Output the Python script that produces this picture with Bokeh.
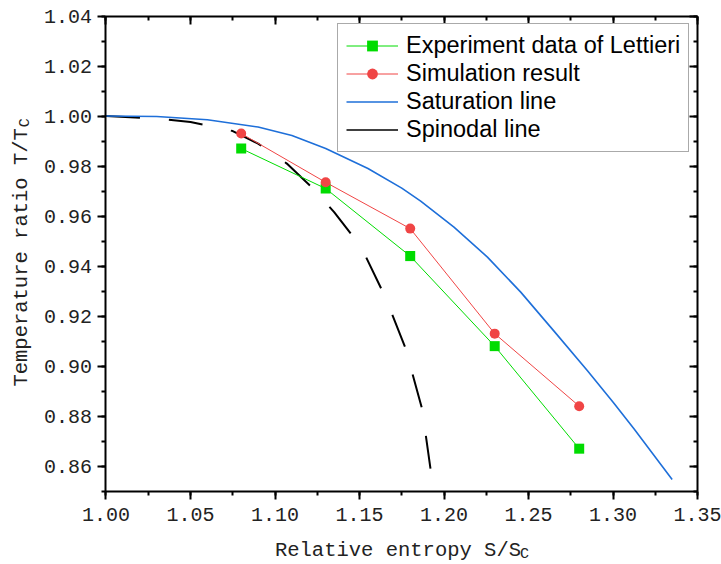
import math
from bokeh.plotting import figure
from bokeh.models import (LinearAxis, SingleIntervalTicker, NumeralTickFormatter,
                          Legend, LegendItem, Label, ColumnDataSource)
from bokeh.embed import file_html
from bokeh.resources import INLINE

# ---- data ----
exp_x = [1.08, 1.13, 1.18, 1.23, 1.28]
exp_y = [0.987, 0.971, 0.944, 0.908, 0.867]

sim_x = [1.08, 1.13, 1.18, 1.23, 1.28]
sim_y = [0.993, 0.9735, 0.955, 0.913, 0.884]

sat_x = [1.00, 1.03, 1.06, 1.09, 1.11, 1.13, 1.155, 1.175, 1.1862, 1.2059, 1.2257,
         1.2454, 1.2651, 1.2849, 1.3002, 1.3124, 1.335]
sat_y = [1.000, 0.9998, 0.9985, 0.9956, 0.9922, 0.9870, 0.9790, 0.9712, 0.9660, 0.9556, 0.9436,
         0.9296, 0.9140, 0.8982, 0.8855, 0.8750, 0.8547]

spin_x = [1.00, 1.03, 1.05, 1.075, 1.09, 1.107, 1.122, 1.135, 1.151, 1.165, 1.177, 1.187, 1.192]
spin_y = [1.000, 0.999, 0.9976, 0.994, 0.989, 0.981, 0.9714, 0.9616, 0.9476, 0.928, 0.9076, 0.883, 0.859]

series_names = ["Experiment data of Lettieri", "Simulation result", "Saturation line", "Spinodal line"]
x_label_main, x_label_sub = "Relative entropy S/S", "C"
y_label_main, y_label_sub = "Temperature ratio T/T", "C"

# axis extents (data) and the canvas-wide view range around them
X0, X1 = 1.0, 1.35
Y0, Y1 = 0.85, 1.04
VIEW_X = (0.937574, 1.364201)
VIEW_Y = (0.820692, 1.046198)

GREEN = "#00DC00"
RED = "#F04545"
BLUE = "#1E6FD9"
BLACK = "#000000"
TICK_FONT = "Liberation Mono"

p = figure(width=721, height=564, x_range=VIEW_X, y_range=VIEW_Y,
           output_backend="svg", toolbar_location=None,
           min_border_left=0, min_border_right=0, min_border_top=0, min_border_bottom=0)
p.background_fill_color = "white"
p.border_fill_color = "white"
p.outline_line_color = None
p.grid.visible = False

EPS = 1e-7

def style_axis(ax, ticker, bounds, loc, outward, show_labels, standoff=6):
    ax.ticker = ticker
    ax.bounds = bounds
    ax.fixed_location = loc
    ax.axis_line_color = "black"
    ax.axis_line_width = 2
    ax.major_tick_line_color = "black"
    ax.major_tick_line_width = 2
    ax.minor_tick_line_color = "black"
    ax.minor_tick_line_width = 2
    if outward:
        ax.major_tick_out, ax.major_tick_in = 8, 0
        ax.minor_tick_out, ax.minor_tick_in = 4, 0
    else:
        ax.major_tick_out, ax.major_tick_in = 0, 8
        ax.minor_tick_out, ax.minor_tick_in = 0, 4
    ax.formatter = NumeralTickFormatter(format="0.00")
    if show_labels:
        ax.major_label_text_font = TICK_FONT
        ax.major_label_text_font_size = "20px"
        ax.major_label_text_color = "#222222"
        ax.major_label_standoff = standoff
    else:
        ax.major_label_text_font_size = "0px"
        ax.major_label_standoff = 0
        ax.major_label_text_alpha = 0

xb = (X0 - EPS, X1 + EPS)
yb = (Y0 - EPS, Y1 + EPS)
style_axis(p.xaxis[0], SingleIntervalTicker(interval=0.05, num_minor_ticks=2), xb, Y0, True, True, 9)
style_axis(p.yaxis[0], SingleIntervalTicker(interval=0.02, num_minor_ticks=2), yb, X0, True, True, 6)

top_ax = LinearAxis()
style_axis(top_ax, SingleIntervalTicker(interval=0.05, num_minor_ticks=2), xb, Y1, False, False)
p.add_layout(top_ax, "above")
right_ax = LinearAxis()
style_axis(right_ax, SingleIntervalTicker(interval=0.02, num_minor_ticks=2), yb, X1, False, False)
p.add_layout(right_ax, "right")

# ---- series ----
exp_src = ColumnDataSource(dict(x=exp_x, y=exp_y))
sim_src = ColumnDataSource(dict(x=sim_x, y=sim_y))
sat_src = ColumnDataSource(dict(x=sat_x, y=sat_y))
spin_src = ColumnDataSource(dict(x=spin_x, y=spin_y))

spin_r = p.line("x", "y", source=spin_src, line_color=BLACK, line_width=2, line_dash="34 29")
sat_r = p.line("x", "y", source=sat_src, line_color=BLUE, line_width=1.6)
exp_l = p.line("x", "y", source=exp_src, line_color=GREEN, line_width=1)
exp_m = p.scatter("x", "y", source=exp_src, marker="square", size=10, fill_color=GREEN, line_color=None)
sim_l = p.line("x", "y", source=sim_src, line_color=RED, line_width=1)
sim_m = p.scatter("x", "y", source=sim_src, marker="circle", size=10, fill_color=RED, line_color=None)

# hidden solid copy used only as the legend sample (the legend shows a solid line)
spin_leg = p.line("x", "y", source=spin_src, line_color=BLACK, line_width=1.5, visible=False)

legend = Legend(items=[
    LegendItem(label=series_names[0], renderers=[exp_l, exp_m]),
    LegendItem(label=series_names[1], renderers=[sim_l, sim_m]),
    LegendItem(label=series_names[2], renderers=[sat_r]),
    LegendItem(label=series_names[3], renderers=[spin_leg]),
], location=(337, 412))
legend.margin = 0
legend.padding = 8
legend.spacing = 1
legend.glyph_width = 52
legend.glyph_height = 27
legend.label_height = 27
legend.label_standoff = 8
legend.label_text_font = "Liberation Sans"
legend.label_text_font_size = "23.5px"
legend.label_text_color = "black"
legend.border_line_color = "#555555"
legend.border_line_width = 1.5
legend.background_fill_color = "white"
legend.background_fill_alpha = 1.0
p.add_layout(legend, "center")

# ---- axis titles with subscripts ----
lab_kw = dict(text_font=TICK_FONT, text_color="#222222")
p.add_layout(Label(x=X0, y=Y0, x_offset=415, y_offset=-59, text=x_label_main,
                   text_align="right", text_baseline="alphabetic", text_font_size="20.5px", **lab_kw))
p.add_layout(Label(x=X0, y=Y0, x_offset=414, y_offset=-63, text=x_label_sub,
                   text_align="left", text_baseline="alphabetic", text_font_size="15px", **lab_kw))
p.add_layout(Label(x=X0, y=Y0, x_offset=-84, y_offset=363, text=y_label_main, angle=math.pi / 2,
                   text_align="right", text_baseline="alphabetic", text_font_size="20.5px", **lab_kw))
p.add_layout(Label(x=X0, y=Y0, x_offset=-80, y_offset=364, text=y_label_sub, angle=math.pi / 2,
                   text_align="left", text_baseline="alphabetic", text_font_size="15px", **lab_kw))

open("out.html", "w").write(file_html(p, INLINE))
